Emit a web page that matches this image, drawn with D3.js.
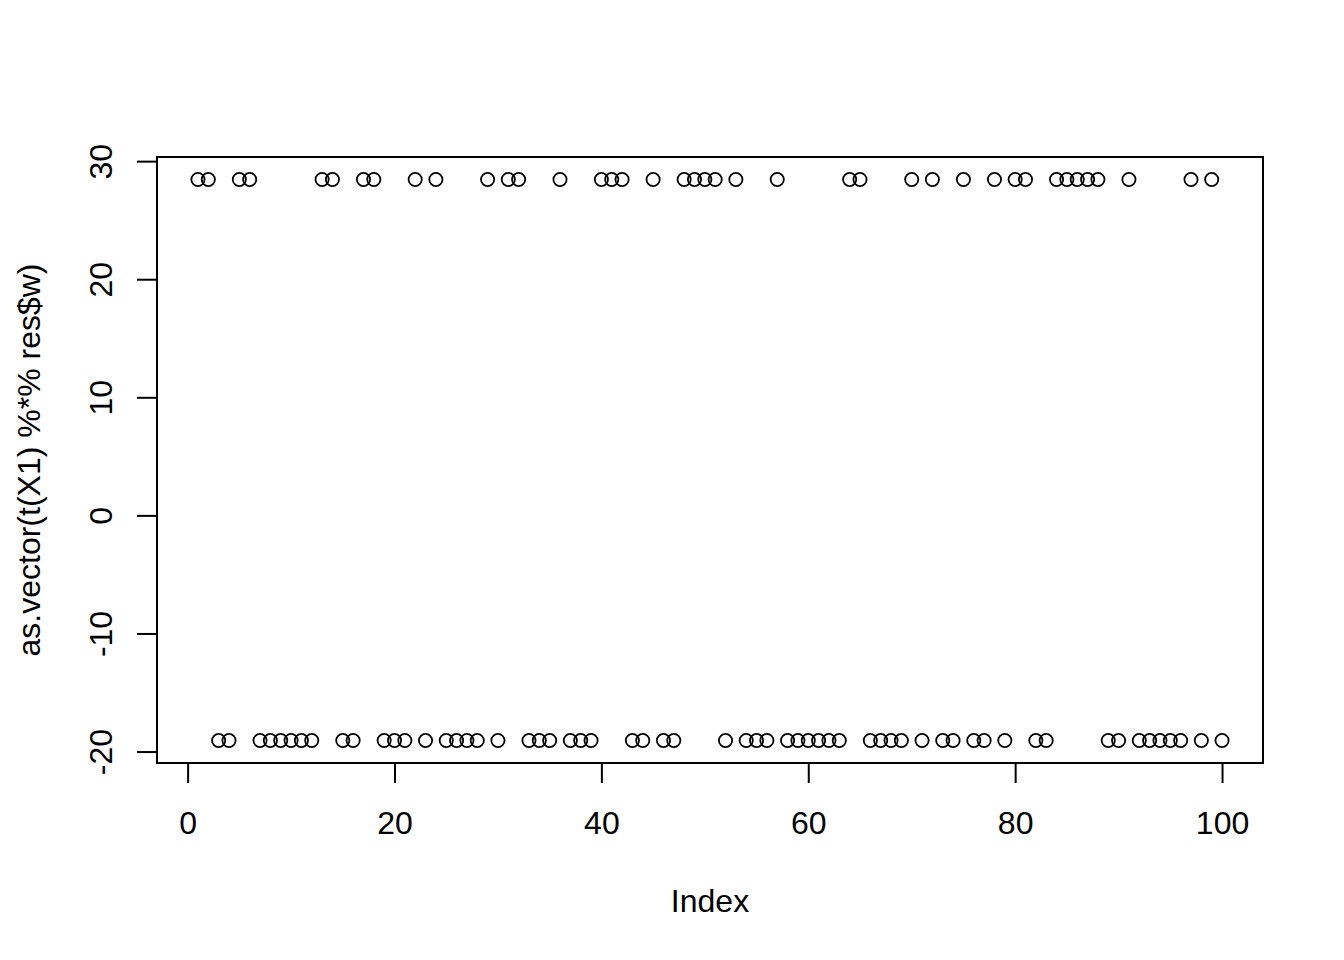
<!DOCTYPE html>
<html>
<head>
<meta charset="utf-8">
<script src="https://cdn.jsdelivr.net/npm/d3@7"></script>
<style>
  html, body { margin: 0; padding: 0; background: #fff; }
  svg text { font-family: "Liberation Sans", Arial, Helvetica, sans-serif; fill: #000; }
</style>
</head>
<body>
<script>
// ---- data ----
const indices = d3.range(1, 101);
const values = [
  28.45, 28.45, -19.07, -19.07, 28.45, 28.45, -19.07, -19.07, -19.07, -19.07,
  -19.07, -19.07, 28.45, 28.45, -19.07, -19.07, 28.45, 28.45, -19.07, -19.07,
  -19.07, 28.45, -19.07, 28.45, -19.07, -19.07, -19.07, -19.07, 28.45, -19.07,
  28.45, 28.45, -19.07, -19.07, -19.07, 28.45, -19.07, -19.07, -19.07, 28.45,
  28.45, 28.45, -19.07, -19.07, 28.45, -19.07, -19.07, 28.45, 28.45, 28.45,
  28.45, -19.07, 28.45, -19.07, -19.07, -19.07, 28.45, -19.07, -19.07, -19.07,
  -19.07, -19.07, -19.07, 28.45, 28.45, -19.07, -19.07, -19.07, -19.07, 28.45,
  -19.07, 28.45, -19.07, -19.07, 28.45, -19.07, -19.07, 28.45, -19.07, 28.45,
  28.45, -19.07, -19.07, 28.45, 28.45, 28.45, 28.45, 28.45, -19.07, -19.07,
  28.45, -19.07, -19.07, -19.07, -19.07, -19.07, 28.45, -19.07, 28.45, -19.07
];
const xTicks = [0, 20, 40, 60, 80, 100];
const yTicks = [-20, -10, 0, 10, 20, 30];
const xLabel = "Index";
const yLabel = "as.vector(t(X1) %*% res$w)";

// ---- layout ----
const W = 1344, H = 960;
const plot = { left: 157, right: 1263, top: 157, bottom: 763 };
const FS = 32;

const svg = d3.select("body").append("svg")
  .attr("width", W).attr("height", H);

function expand(ext) {
  const d = (ext[1] - ext[0]) * 0.04;
  return [ext[0] - d, ext[1] + d];
}

const x = d3.scaleLinear().domain(expand(d3.extent(indices))).range([plot.left, plot.right]);
const y = d3.scaleLinear().domain(expand(d3.extent(values))).range([plot.bottom, plot.top]);

const fmt = d => String(d);  // plain hyphen-minus like R

// box
svg.append("rect")
  .attr("x", plot.left).attr("y", plot.top)
  .attr("width", plot.right - plot.left).attr("height", plot.bottom - plot.top)
  .attr("fill", "none").attr("stroke", "#000").attr("stroke-width", 2);

// x axis
const xAxis = d3.axisBottom(x).tickValues(xTicks).tickSize(20).tickPadding(28).tickFormat(fmt);
const gx = svg.append("g").attr("transform", `translate(0,${plot.bottom})`).call(xAxis);
gx.select(".domain").attr("d", `M${x(xTicks[0])},0H${x(xTicks[xTicks.length-1])}`)
  .attr("stroke", "#000").attr("stroke-width", 2);
gx.selectAll(".tick line").attr("stroke", "#000").attr("stroke-width", 2);
gx.selectAll(".tick text").attr("font-size", FS).attr("font-family", "Liberation Sans, Arial, sans-serif");

// y axis
const yAxis = d3.axisLeft(y).tickValues(yTicks).tickSize(20).tickPadding(0).tickFormat(fmt);
const gy = svg.append("g").attr("transform", `translate(${plot.left},0)`).call(yAxis);
gy.select(".domain").attr("d", `M0,${y(yTicks[0])}V${y(yTicks[yTicks.length-1])}`)
  .attr("stroke", "#000").attr("stroke-width", 2);
gy.selectAll(".tick line").attr("stroke", "#000").attr("stroke-width", 2);
gy.selectAll(".tick text")
  .attr("font-size", FS).attr("font-family", "Liberation Sans, Arial, sans-serif")
  .attr("x", null).attr("dy", null)
  .attr("text-anchor", "middle")
  .attr("transform", "translate(-45,0) rotate(-90)");

// points
svg.append("g").selectAll("circle")
  .data(indices.map((d, i) => ({ i: d, v: values[i] })))
  .join("circle")
  .attr("cx", d => x(d.i)).attr("cy", d => y(d.v))
  .attr("r", 6.6)
  .attr("fill", "none").attr("stroke", "#000").attr("stroke-width", 1.8);

// axis titles
svg.append("text")
  .attr("x", (plot.left + plot.right) / 2).attr("y", 912)
  .attr("text-anchor", "middle").attr("font-size", FS)
  .text(xLabel);

svg.append("text")
  .attr("transform", `translate(40,${(plot.top + plot.bottom) / 2}) rotate(-90)`)
  .attr("text-anchor", "middle").attr("font-size", FS)
  .text(yLabel);
</script>
</body>
</html>
